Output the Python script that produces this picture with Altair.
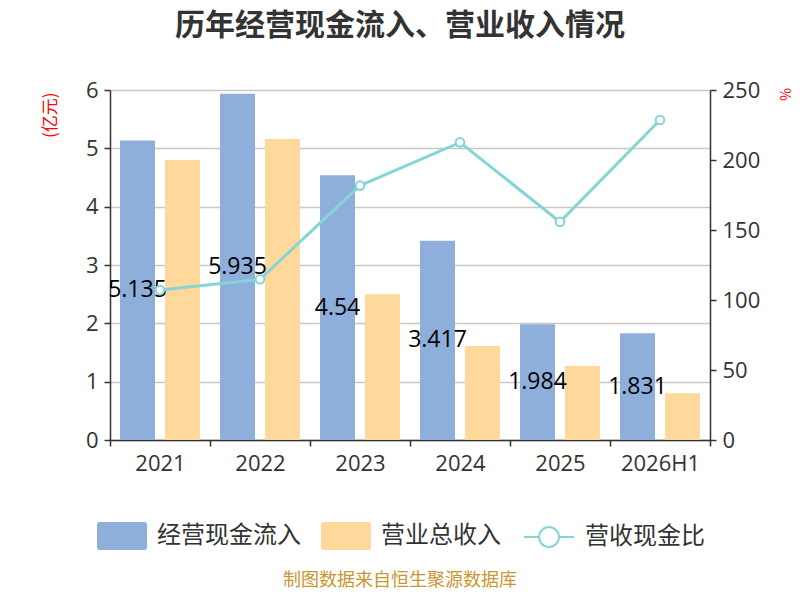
import altair as alt
import pandas as pd

years = ["2021", "2022", "2023", "2024", "2025", "2026H1"]
cash_inflow = [5.135, 5.935, 4.54, 3.417, 1.984, 1.831]
revenue = [4.80, 5.16, 2.50, 1.61, 1.27, 0.80]
ratio = [107.1, 114.8, 181.7, 212.6, 155.8, 228.6]

S_CASH = "经营现金流入"
S_REV = "营业总收入"
S_RATIO = "营收现金比"

BLUE = "#8eaedb"
ORANGE = "#ffd99b"
TEAL = "#86d5d6"
FONT = "Noto Sans CJK SC"
NUMFONT = "Open Sans"

bar_df = pd.DataFrame(
    [{"year": y, "series": S_CASH, "value": v} for y, v in zip(years, cash_inflow)]
    + [{"year": y, "series": S_REV, "value": v} for y, v in zip(years, revenue)]
)
line_df = pd.DataFrame({"year": years, "ratio": ratio, "s": [S_RATIO] * len(years)})

x_axis = alt.Axis(
    title=None,
    labelAngle=0,
    labelFontSize=22,
    labelColor="#333333",
    labelFont=NUMFONT,
    labelPadding=7,
    tickBand="extent",
    tickSize=6,
    tickColor="#333333",
    tickWidth=1.5,
    domainColor="#333333",
    domainWidth=1.5,
    grid=False,
)
x_enc = alt.X("year:N", sort=years, scale=alt.Scale(paddingInner=0, paddingOuter=0), axis=x_axis)
xoff_scale = alt.Scale(domain=[S_CASH, S_REV], paddingInner=0.222, paddingOuter=0.222)

left_axis = alt.Axis(
    title="(亿元)",
    titleColor="red",
    titleFontSize=17,
    titleFont=FONT,
    titleFontWeight="normal",
    titleAngle=270,
    titleAlign="right",
    titleBaseline="middle",
    titleX=-60,
    titleY=2,
    values=[0, 1, 2, 3, 4, 5, 6],
    labelFontSize=22,
    labelColor="#333333",
    labelFont=NUMFONT,
    labelPadding=6,
    tickSize=6,
    tickColor="#333333",
    tickWidth=1.5,
    domainColor="#333333",
    domainWidth=1.5,
    grid=True,
    gridColor="#c8c8c8",
    gridWidth=1.5,
)
left_scale = alt.Scale(domain=[0, 6], nice=False)

rect_path = (
    "M-0.88,-0.56 H0.88 Q1,-0.56 1,-0.44 V0.44 Q1,0.56 0.88,0.56 "
    "H-0.88 Q-1,0.56 -1,0.44 V-0.44 Q-1,-0.56 -0.88,-0.56 Z"
)
line_path = (
    "M-1,0 H-0.4 M0.4,0 H1 M0.4,0 A0.4,0.4 0 1 1 -0.4,0 A0.4,0.4 0 1 1 0.4,0 Z"
)

bars = alt.Chart(bar_df).mark_bar().encode(
    x=x_enc,
    xOffset=alt.XOffset("series:N", scale=xoff_scale, sort=[S_CASH, S_REV]),
    y=alt.Y("value:Q", scale=left_scale, axis=left_axis),
    fill=alt.Fill(
        "series:N",
        scale=alt.Scale(domain=[S_CASH, S_REV], range=[BLUE, ORANGE]),
        legend=alt.Legend(
            title=None,
            orient="none",
            legendX=-13,
            legendY=421,
            direction="horizontal",
            symbolType=rect_path,
            symbolSize=2500,
            symbolStrokeWidth=0,
            symbolOpacity=1,
            labelFontSize=24,
            labelFont=FONT,
            labelColor="#333333",
            labelOffset=10,
            columnPadding=20,
            padding=0,
        ),
    ),
)

labels = alt.Chart(bar_df).transform_filter(
    alt.datum.series == S_CASH
).transform_calculate(
    half="datum.value / 2"
).mark_text(fontSize=23, font=NUMFONT, color="#000000", baseline="middle").encode(
    x=alt.X("year:N", sort=years),
    xOffset=alt.XOffset("series:N", scale=xoff_scale, sort=[S_CASH, S_REV]),
    y=alt.Y("half:Q", scale=left_scale, axis=left_axis),
    text=alt.Text("value:Q"),
)

left = alt.layer(bars, labels)

line = alt.Chart(line_df).mark_line(strokeWidth=3).encode(
    x=alt.X("year:N", sort=years),
    y=alt.Y(
        "ratio:Q",
        scale=alt.Scale(domain=[0, 250], nice=False),
        axis=alt.Axis(
            title="%",
            orient="right",
            titleColor="red",
            titleFontSize=14,
            titleFont=FONT,
            titleFontWeight="normal",
            titleAngle=90,
            titleAlign="center",
            titleBaseline="middle",
            titleX=73,
            titleY=4,
            values=[0, 50, 100, 150, 200, 250],
            labelFontSize=22,
            labelColor="#333333",
            labelFont=NUMFONT,
            labelPadding=6,
            tickSize=6,
            tickColor="#333333",
            tickWidth=1.5,
            domainColor="#333333",
            domainWidth=1.5,
            grid=False,
        ),
    ),
    stroke=alt.Stroke(
        "s:N",
        scale=alt.Scale(domain=[S_RATIO], range=[TEAL]),
        legend=alt.Legend(
            title=None,
            orient="none",
            legendX=413,
            legendY=421,
            direction="horizontal",
            symbolType=line_path,
            symbolSize=2500,
            symbolStrokeWidth=2,
            symbolFillColor="#ffffff",
            labelFontSize=24,
            labelFont=FONT,
            labelColor="#333333",
            labelOffset=10,
            padding=0,
        ),
    ),
)

points = alt.Chart(line_df).mark_point(
    filled=True, fill="#ffffff", stroke=TEAL, strokeWidth=2, size=75, opacity=1
).encode(
    x=alt.X("year:N", sort=years),
    y=alt.Y("ratio:Q"),
)

right = alt.layer(line, points)

source = alt.Chart(pd.DataFrame({"t": ["制图数据来自恒生聚源数据库"]})).mark_text(
    fontSize=18, font=FONT, color="#c9962f", align="center", baseline="middle"
).encode(
    text="t:N",
    x=alt.value(290),
    y=alt.value(491),
)

chart = alt.layer(left, right, source).resolve_scale(
    y="independent"
).properties(
    width=600,
    height=350,
    autosize=alt.AutoSizeParams(type="none"),
    padding={"left": 102, "top": 82, "right": 82, "bottom": 152},
    title=alt.TitleParams(
        "历年经营现金流入、营业收入情况",
        fontSize=30,
        font=FONT,
        fontWeight="bold",
        color="#333333",
        anchor="middle",
        dx=-10,
        offset=38,
    ),
).configure_view(stroke=None)

chart.save("out.html", embed_options={"renderer": "svg", "actions": False})
